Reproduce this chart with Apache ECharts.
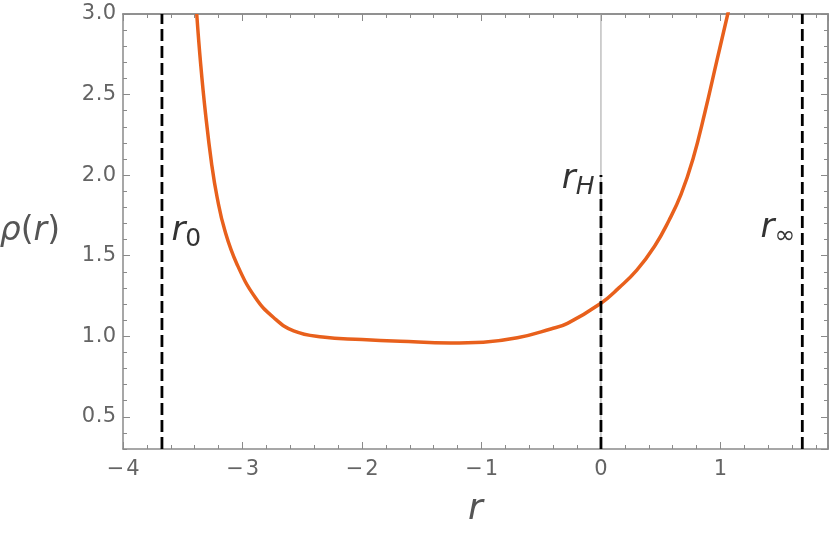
<!DOCTYPE html>
<html>
<head>
<meta charset="utf-8">
<script src="https://cdn.jsdelivr.net/npm/echarts@6/dist/echarts.min.js"></script>
<style>
  html, body { margin: 0; padding: 0; background: #fff; }
  #chart { width: 830px; height: 535px; }
</style>
</head>
<body>
<div id="chart"></div>
<script>
// curve rho(r)
const rValues   = [-3.383, -3.350, -3.309, -3.258, -3.212, -3.147, -3.046, -2.893, -2.740, -2.572, -2.33, -2.0, -1.68, -1.26, -0.985, -0.70, -0.42, -0.28, 0.00, 0.15, 0.30, 0.45, 0.57, 0.67, 0.77, 0.87, 0.97, 1.08];
const rhoValues = [ 3.000,  2.689,  2.379,  2.068,  1.861,  1.654,  1.447,  1.240,  1.116,  1.033,  0.995, 0.98, 0.969, 0.958, 0.963,  0.99,  1.045, 1.08,  1.205, 1.30, 1.41, 1.56, 1.72, 1.88, 2.10, 2.39, 2.71, 3.06];

// dashed vertical markers r0, rH, r_inf
const markerR    = [-3.674, 0, 1.685];
const markerTop  = [3.0, 2.0, 3.0];
const markerSub  = ['{s|0}', '{h|H}', '{s|\u221e}'];
const labelR     = [-3.47, -0.19, 1.48];
const labelRho   = [1.65, 1.975, 1.67];

const xMin = -4, xMax = 1.9;
const yMin = 0.3, yMax = 3.0;

const frameColor = '#8a8a8a';
const tickText = '#646464';
const font = 'DejaVu Sans';

let myChart = echarts.init(document.getElementById('chart'));

// wide tick numbers like the original
function spaced(s) {
    return s.split('').map(c => c === '.' ? '{p|.}' : (c === '\u2212' ? '{m|\u2212}' : '{d|' + c + '}')).join('');
}
const tickRich = {
    d: { width: 15, align: 'center', fontSize: 21, fontFamily: font, color: tickText },
    p: { width: 6, align: 'center', fontSize: 21, fontFamily: font, color: tickText },
    m: { width: 20, align: 'center', fontSize: 21, fontFamily: font, color: tickText }
};

function xAxisOf(pos, major, main) {
    return {
        type: 'value', position: pos, min: xMin, max: xMax,
        interval: major ? 1 : 0.2,
        axisLine: { show: main || pos === 'top', onZero: false, lineStyle: { color: frameColor, width: 1.5 } },
        axisTick: { show: true, inside: true, length: major ? 7 : 4, lineStyle: { color: frameColor, width: 1 } },
        axisLabel: main ? {
            show: true, margin: 10, showMaxLabel: false, rich: tickRich,
            formatter: v => spaced(v < 0 ? '\u2212' + Math.abs(v) : String(v))
        } : { show: false },
        splitLine: { show: false },
        name: main ? 'r' : '',
        nameLocation: 'middle', nameGap: 43,
        nameTextStyle: { fontStyle: 'italic', fontSize: 36, color: '#555', fontFamily: font }
    };
}

function yAxisOf(pos, major, main) {
    const step = major ? 0.5 : 0.1;
    return {
        type: 'value', position: pos, min: yMin, max: yMax,
        minInterval: step, maxInterval: step,
        axisLine: { show: main || pos === 'right', onZero: false, lineStyle: { color: frameColor, width: 1.5 } },
        axisTick: { show: true, inside: true, length: major ? 7 : 4, lineStyle: { color: frameColor, width: 1 } },
        axisLabel: main ? {
            show: true, margin: 6, showMinLabel: false, rich: tickRich,
            formatter: v => spaced(v.toFixed(1))
        } : { show: false },
        splitLine: { show: false },
        name: main ? '{i|\u03c1}{n|(}{i|r}{n|)}' : '',
        nameLocation: 'middle', nameGap: 63, nameRotate: 0,
        nameTextStyle: {
            color: '#555', fontSize: 33, fontFamily: font,
            rich: {
                i: { fontStyle: 'italic', fontSize: 33, color: '#555', fontFamily: font },
                n: { fontSize: 33, color: '#555', fontFamily: font }
            }
        }
    };
}

let series = [];

// thin axis line at r = 0
series.push({
    type: 'line', silent: true, showSymbol: false, z: 1,
    data: [[0, yMin], [0, yMax]],
    lineStyle: { color: '#a0a0a0', width: 1 }
});

// the curve
series.push({
    type: 'line', smooth: 0.45, showSymbol: false, z: 3,
    data: rValues.map((r, i) => [r, rhoValues[i]]),
    lineStyle: { color: '#e8601c', width: 3.5 }
});

// dashed markers
markerR.forEach((r, i) => {
    series.push({
        type: 'line', silent: true, showSymbol: false, z: 4,
        data: [[r, yMin], [r, markerTop[i]]],
        lineStyle: { color: '#000', width: 2.8, type: [12, 5] }
    });
});

// marker labels
series.push({
    type: 'scatter', symbolSize: 0, z: 5,
    data: labelR.map((r, i) => [r, labelRho[i], markerSub[i]]),
    label: {
        show: true, position: 'inside',
        formatter: p => '{i|r}' + p.value[2],
        rich: {
            i: { fontStyle: 'italic', fontSize: 34, color: '#000', fontFamily: font },
            s: { fontSize: 25, color: '#000', fontFamily: font, padding: [16, 0, 0, 0] },
            h: { fontStyle: 'italic', fontSize: 25, color: '#000', fontFamily: font, padding: [16, 0, 0, 0] }
        }
    }
});

myChart.setOption({
    animation: false,
    backgroundColor: '#fff',
    grid: { left: 123, right: 2, top: 14, bottom: 86, outerBoundsMode: 'none' },
    xAxis: [xAxisOf('bottom', true, true), xAxisOf('bottom', false, false), xAxisOf('top', true, false), xAxisOf('top', false, false)],
    yAxis: [yAxisOf('left', true, true), yAxisOf('left', false, false), yAxisOf('right', true, false), yAxisOf('right', false, false)],
    series: series
});
</script>
</body>
</html>
